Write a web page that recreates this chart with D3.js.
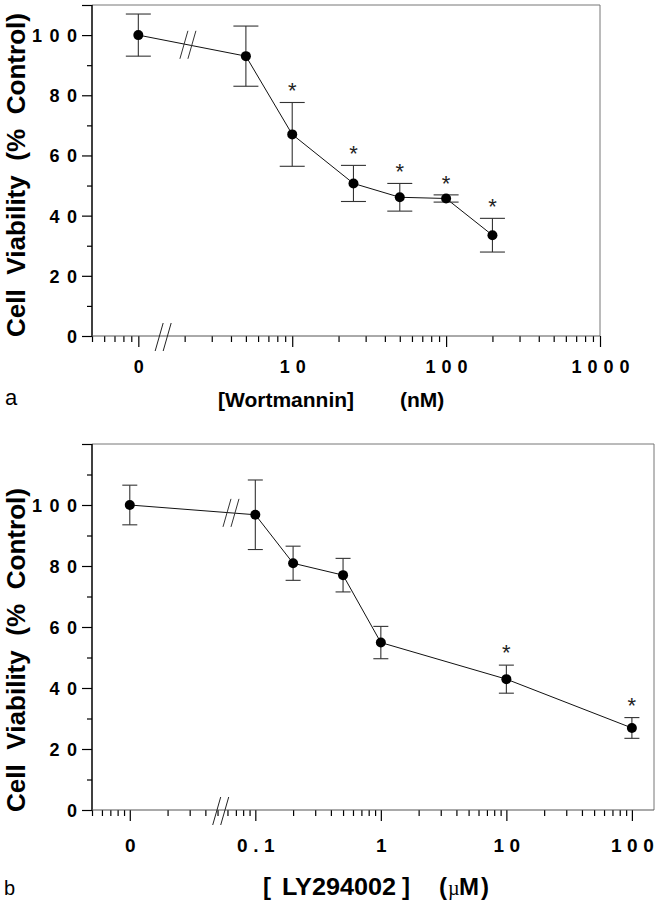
<!DOCTYPE html>
<html>
<head>
<meta charset="utf-8">
<script src="https://cdn.jsdelivr.net/npm/d3@7/dist/d3.min.js"></script>
<style>
  html, body { margin: 0; padding: 0; background: #fff; }
  svg { display: block; }
  text { font-family: "Liberation Sans", Arial, Helvetica, sans-serif; }
</style>
</head>
<body>
<svg id="chart" width="665" height="900"></svg>
<script>
// ---------- Panel a: Wortmannin (nM) ----------
const wortDose = [0, 5, 10, 25, 50, 100, 200];
const wortMean = [100, 93, 67, 50.7, 46.1, 45.7, 33.5];
const wortErr  = [7, 10, 10.6, 6, 4.6, 1.2, 5.6];
const wortSig  = [false, false, true, true, true, true, true];
const wortXTicks = [1, 10, 100, 1000];
const wortXLabels = ["0", "10", "100", "1000"];

// ---------- Panel b: LY294002 (µM) ----------
const lyDose = [0, 0.1, 0.2, 0.5, 1, 10, 100];
const lyMean = [100, 96.8, 80.9, 77, 54.9, 42.9, 26.9];
const lyErr  = [6.5, 11.4, 5.6, 5.5, 5.3, 4.6, 3.4];
const lySig  = [false, false, false, false, false, true, true];
const lyXTicks = [0.01, 0.1, 1, 10, 100];
const lyXLabels = ["0", "0.1", "1", "10", "100"];

// shared y ticks
const yMajor = [0, 20, 40, 60, 80, 100];
const yLabels = ["0", "20", "40", "60", "80", "100"];

const svg = d3.select("#chart");

function minorLogTicks(lo, hi) {
  const out = [];
  for (let e = -4; e <= 4; e++) {
    for (let m = 1; m <= 9; m++) {
      const v = m * Math.pow(10, e);
      if (v >= lo * 0.9999 && v <= hi * 1.0001) out.push(v);
    }
  }
  return out;
}

function breakMark(g, cx, cy, color) {
  [-4, 4].forEach(off => {
    g.append("line")
      .attr("x1", cx + off - 4).attr("y1", cy + 14)
      .attr("x2", cx + off + 4).attr("y2", cy - 14)
      .attr("stroke", color).attr("stroke-width", 1);
  });
}

function panel(cfg) {
  const g = svg.append("g");
  const x = d3.scaleLog().domain(cfg.xDomain).range([cfg.left, cfg.right]);
  const y = d3.scaleLinear().domain(cfg.yDomain).range([cfg.bottom, cfg.top]);
  const xPos = d => x(d === 0 ? cfg.zeroAt : d);

  // frame: top & right
  g.append("line").attr("x1", cfg.left).attr("x2", cfg.right)
    .attr("y1", cfg.top).attr("y2", cfg.top)
    .attr("stroke", "#777").attr("stroke-width", 1);
  g.append("line").attr("x1", cfg.right).attr("x2", cfg.right)
    .attr("y1", cfg.top).attr("y2", cfg.bottom)
    .attr("stroke", "#777").attr("stroke-width", 1);

  // y axis
  const yMinor = d3.range(cfg.yDomain[0] + 10, cfg.yDomain[1], 20);
  const yAxMinor = g.append("g").attr("transform", `translate(${cfg.left},0)`)
    .call(d3.axisLeft(y).tickValues(yMinor).tickSize(5).tickFormat(""));
  const yAxMajor = g.append("g").attr("transform", `translate(${cfg.left},0)`)
    .call(d3.axisLeft(y).tickValues(yMajor.concat([cfg.yDomain[1]])).tickSize(10)
      .tickFormat((d, i) => i < yLabels.length ? yLabels[i] : ""));
  [yAxMinor, yAxMajor].forEach(a => {
    a.select(".domain").remove();
    a.selectAll(".tick line").attr("stroke", "#000").attr("stroke-width", 1.2);
  });
  yAxMajor.selectAll(".tick text")
    .attr("x", -15).attr("dx", 7.5).attr("dy", "0.36em")
    .style("font-size", "18px").style("font-weight", "bold")
    .style("letter-spacing", "7.5px").attr("fill", "#000");
  g.append("line").attr("x1", cfg.left).attr("x2", cfg.left)
    .attr("y1", cfg.top).attr("y2", cfg.bottom)
    .attr("stroke", "#000").attr("stroke-width", 1.5);

  // x axis
  const xMinor = minorLogTicks(cfg.xDomain[0], cfg.xDomain[1])
    .filter(v => !cfg.xTicks.some(t => Math.abs(t - v) / t < 1e-6));
  const xAxMinor = g.append("g").attr("transform", `translate(0,${cfg.bottom})`)
    .call(d3.axisBottom(x).tickValues(xMinor).tickSize(6).tickFormat(""));
  const xAxMajor = g.append("g").attr("transform", `translate(0,${cfg.bottom})`)
    .call(d3.axisBottom(x).tickValues(cfg.xTicks).tickSize(11)
      .tickFormat((d, i) => cfg.xLabels[i]));
  [xAxMinor, xAxMajor].forEach(a => {
    a.select(".domain").remove();
    a.selectAll(".tick line").attr("stroke", "#000").attr("stroke-width", 1.2);
  });
  xAxMajor.selectAll(".tick text")
    .attr("y", cfg.xLabelY - cfg.bottom).attr("dy", 0).attr("dx", cfg.xLs / 2)
    .style("font-size", cfg.xFs + "px").style("font-weight", "bold")
    .style("letter-spacing", cfg.xLs + "px").attr("fill", "#000");
  g.append("line").attr("x1", cfg.left).attr("x2", cfg.right)
    .attr("y1", cfg.bottom).attr("y2", cfg.bottom)
    .attr("stroke", "#555").attr("stroke-width", 1);

  // axis break
  breakMark(g, x(cfg.axisBreak), cfg.bottom + 1, "#222");

  // line
  const pts = cfg.dose.map((d, i) => [xPos(d), y(cfg.mean[i])]);
  g.append("path").datum(pts)
    .attr("d", d3.line())
    .attr("fill", "none").attr("stroke", "#111").attr("stroke-width", 1);

  // data break on the line between first two points
  const bx = x(cfg.dataBreak);
  const t = (bx - pts[0][0]) / (pts[1][0] - pts[0][0]);
  const byy = pts[0][1] + t * (pts[1][1] - pts[0][1]);
  breakMark(g, bx, byy, "#333");

  // error bars
  cfg.dose.forEach((d, i) => {
    const cx = xPos(d);
    const yt = y(cfg.mean[i] + cfg.err[i]);
    const yb = y(cfg.mean[i] - cfg.err[i]);
    const eg = g.append("g").attr("stroke", "#333").attr("stroke-width", 1.1);
    eg.append("line").attr("x1", cx).attr("x2", cx).attr("y1", yt).attr("y2", yb);
    eg.append("line").attr("x1", cx - cfg.cap).attr("x2", cx + cfg.cap).attr("y1", yt).attr("y2", yt);
    eg.append("line").attr("x1", cx - cfg.cap).attr("x2", cx + cfg.cap).attr("y1", yb).attr("y2", yb);
    if (cfg.sig[i]) {
      g.append("text").attr("x", cx).attr("y", yt - cfg.starGap)
        .attr("text-anchor", "middle").style("font-size", "22px")
        .attr("fill", "#222").text("*");
    }
  });

  // points
  g.selectAll("circle.pt").data(pts).enter().append("circle")
    .attr("cx", p => p[0]).attr("cy", p => p[1]).attr("r", 5).attr("fill", "#000");

  // y title
  g.append("text")
    .attr("transform", `translate(25,${cfg.yTitleY}) rotate(-90)`)
    .attr("text-anchor", "middle")
    .attr("textLength", 324).attr("lengthAdjust", "spacingAndGlyphs")
    .style("font-size", "26px").style("font-weight", "bold")
    .style("white-space", "pre")
    .text("Cell  Viability  (%  Control)");

  return { g, x, y };
}

// Panel a
const A = panel({
  left: 92, right: 600, top: 5, bottom: 336,
  xDomain: [0.5, 1000], yDomain: [0, 110], zeroAt: 1,
  xTicks: wortXTicks, xLabels: wortXLabels, xLabelY: 373, xFs: 18, xLs: 6,
  axisBreak: 1.45, dataBreak: 2.1,
  dose: wortDose, mean: wortMean, err: wortErr, sig: wortSig,
  cap: 12.5, starGap: 4, yTitleY: 175
});
A.g.append("text").attr("x", 218).attr("y", 407)
  .style("font-size", "21px").style("font-weight", "bold").text("[Wortmannin]");
A.g.append("text").attr("x", 400).attr("y", 407)
  .style("font-size", "21px").style("font-weight", "bold").text("(nM)");
A.g.append("text").attr("x", 5).attr("y", 405)
  .style("font-size", "22px").text("a");

// Panel b
const B = panel({
  left: 92, right: 654, top: 444, bottom: 810,
  xDomain: [0.005, 150], yDomain: [0, 120], zeroAt: 0.01,
  xTicks: lyXTicks, xLabels: lyXLabels, xLabelY: 852, xFs: 19, xLs: 5.5,
  axisBreak: 0.053, dataBreak: 0.064,
  dose: lyDose, mean: lyMean, err: lyErr, sig: lySig,
  cap: 7.5, starGap: 5, yTitleY: 650
});
const tb = B.g.append("g").style("font-size", "24px").style("font-weight", "bold");
tb.append("text").attr("x", 263).attr("y", 895).text("[");
tb.append("text").attr("x", 282).attr("y", 895)
  .attr("textLength", 114).attr("lengthAdjust", "spacingAndGlyphs").text("LY294002");
tb.append("text").attr("x", 402).attr("y", 895).text("]");
tb.append("text").attr("x", 439).attr("y", 895).text("(");
tb.append("text").attr("x", 448).attr("y", 895)
  .style("font-family", "'Liberation Serif', serif").style("font-weight", "normal")
  .style("font-size", "20px").text("µ");
tb.append("text").attr("x", 459).attr("y", 895).text("M");
tb.append("text").attr("x", 481).attr("y", 895).text(")");
B.g.append("text").attr("x", 4).attr("y", 895)
  .style("font-size", "20px").text("b");
</script>
</body>
</html>
